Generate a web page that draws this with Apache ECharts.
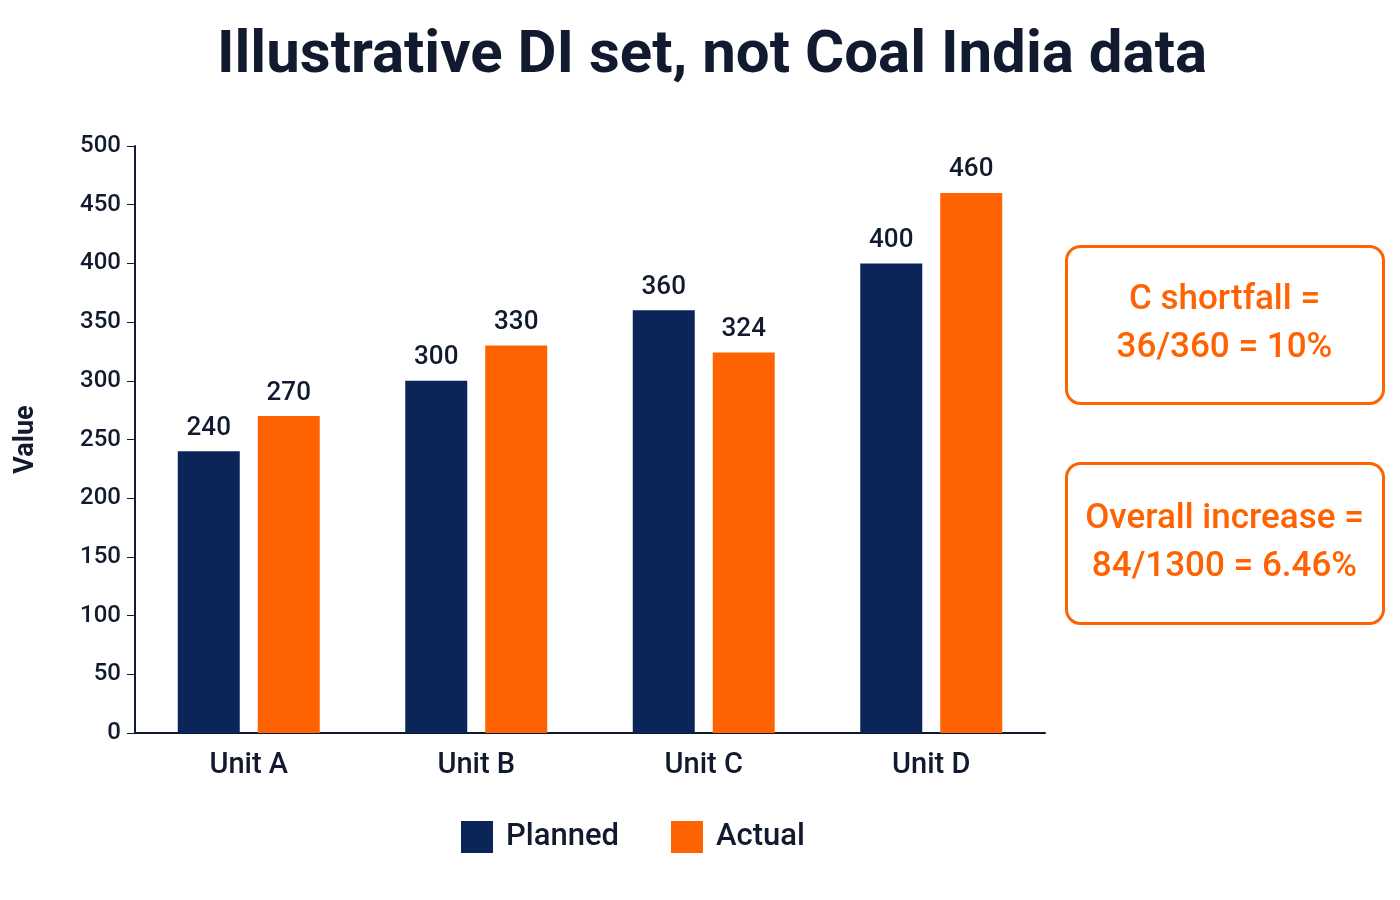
<!DOCTYPE html>
<html><head><meta charset="utf-8">
<script src="https://cdn.jsdelivr.net/npm/echarts@6/dist/echarts.min.js"></script>
<style>html,body{margin:0;padding:0;background:#fff}#c{width:1400px;height:900px}</style>
</head><body><div id="c"></div>
<script>
const categories = ['Unit A','Unit B','Unit C','Unit D'];
const planned = [240,300,360,400];
const actual = [270,330,324,460];
const yTicks = [0,50,100,150,200,250,300,350,400,450,500];
const notes = ['C shortfall =\n36/360 = 10%','Overall increase =\n84/1300 = 6.46%'];
const navy = '#0b2559', orange = '#ff6200', ink = '#111a2e';
const font = 'Roboto, "Noto Sans", sans-serif';
const chart = echarts.init(document.getElementById('c'));
const lbl = {show:true,position:'top',distance:10,color:ink,fontSize:26,fontWeight:500,fontFamily:font};
chart.setOption({
  animation:false,
  title:{text:'Illustrative DI set, not Coal India data',left:707,textAlign:'center',top:22,
    textStyle:{fontSize:60,fontWeight:'bold',color:ink,fontFamily:font}},
  grid:{left:135,right:355,top:146,bottom:167},
  legend:{bottom:42,left:456,itemWidth:32,itemHeight:32,itemGap:52,icon:'rect',
    textStyle:{fontSize:31,fontWeight:500,color:ink,fontFamily:font,padding:[0,0,0,8]}},
  xAxis:{type:'category',data:categories,
    axisLine:{lineStyle:{color:ink,width:2}},axisTick:{show:false},
    axisLabel:{fontSize:29,fontWeight:500,color:ink,fontFamily:font,margin:18}},
  yAxis:{type:'value',min:yTicks[0],max:yTicks[yTicks.length-1],interval:50,
    name:'Value',nameLocation:'middle',nameGap:95,
    nameTextStyle:{fontSize:27,fontWeight:'bold',color:ink,fontFamily:font},
    axisLine:{show:true,lineStyle:{color:ink,width:2}},axisTick:{show:true,length:8,lineStyle:{color:ink}},
    splitLine:{show:false},
    axisLabel:{fontSize:24,fontWeight:500,color:ink,fontFamily:font,margin:14}},
  series:[
    {name:'Planned',type:'bar',data:planned,barWidth:62,barGap:'29%',itemStyle:{color:navy},label:lbl},
    {name:'Actual',type:'bar',data:actual,barWidth:62,itemStyle:{color:orange},label:lbl}
  ],
  graphic:[0,1].map(i=>({type:'group',left:1065,top:i?462:245,children:[
    {type:'rect',shape:{x:0,y:0,width:317,height:i?160:157,r:14},
      style:{fill:'#fff',stroke:orange,lineWidth:3}},
    {type:'text',x:158,y:i?80:78,style:{text:notes[i],fill:orange,fontSize:35,fontWeight:500,
      fontFamily:font,align:'center',verticalAlign:'middle',lineHeight:48}}
  ]}))
});
</script></body></html>
